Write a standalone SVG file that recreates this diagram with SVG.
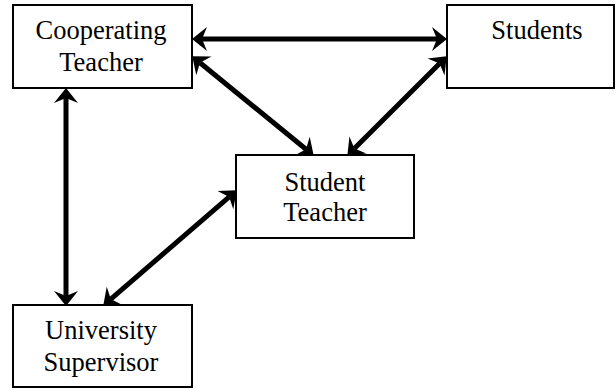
<svg xmlns="http://www.w3.org/2000/svg" width="616" height="389" viewBox="0 0 616 389">
<style>
.box{fill:#fff;stroke:#000;stroke-width:2}
.conn{stroke:#000;stroke-width:5;fill:none;marker-start:url(#ah);marker-end:url(#ah)}
</style>
<defs>
<marker id="ah" markerUnits="userSpaceOnUse" viewBox="-6 -12 16 24" refX="0" refY="0" markerWidth="16" markerHeight="24" orient="auto-start-reverse" overflow="visible">
<path d="M10,0 L-5,-12 L0,0 L-5,12 Z" fill="#000"/>
</marker>
</defs>
<rect width="616" height="389" fill="#fff"/>
<g id="connectors">
<line class="conn" x1="202" y1="39" x2="437" y2="39"/>
<line class="conn" x1="200" y1="62.7" x2="306" y2="149.3"/>
<line class="conn" x1="439.6" y1="63.4" x2="354.4" y2="148.6"/>
<line class="conn" x1="66" y1="98" x2="66" y2="296"/>
<line class="conn" x1="110.8" y1="299.1" x2="229.2" y2="196.9"/>
</g>
<g font-family="Liberation Serif, Times New Roman, serif" font-size="26.5" text-anchor="middle" fill="#000">
<g id="cooperating-teacher">
<rect class="box" x="13" y="5" width="179" height="83"/>
<text x="101" y="39">Cooperating</text>
<text x="101" y="71">Teacher</text>
</g>
<g id="students">
<rect class="box" x="447" y="5" width="167" height="83"/>
<text x="537" y="39">Students</text>
</g>
<g id="student-teacher">
<rect class="box" x="236" y="155" width="178" height="83"/>
<text x="325" y="191">Student</text>
<text x="325" y="221">Teacher</text>
</g>
<g id="university-supervisor">
<rect class="box" x="13" y="305" width="179" height="82"/>
<text x="101" y="339">University</text>
<text x="101" y="371">Supervisor</text>
</g>
</g>
</svg>
